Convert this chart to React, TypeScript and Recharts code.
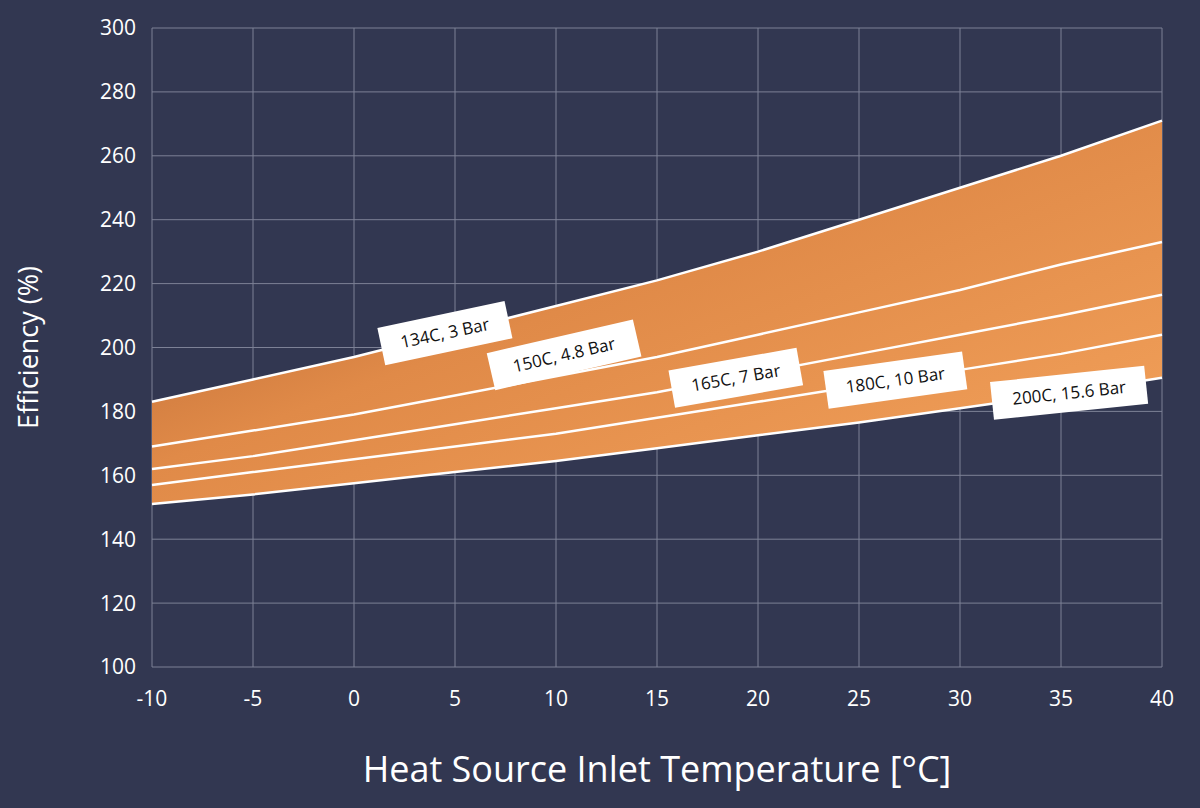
import React from 'react';
import { ComposedChart, Area, Line, XAxis, YAxis, CartesianGrid, ReferenceDot } from 'recharts';

const temps = [-10, -5, 0, 5, 10, 15, 20, 25, 30, 35, 40];
const s134 = [183, 190, 197, 205, 213, 221, 230, 240, 250, 260, 271];
const s150 = [169, 174, 179, 185, 191, 197, 204, 211, 218, 226, 233];
const s165 = [162, 166, 171, 176, 181, 186, 192, 198, 204, 210, 216.5];
const s180 = [157, 161, 165, 169, 173, 178, 183, 188, 193, 198, 204];
const s200 = [151, 154, 157.5, 161, 164.5, 168.5, 172.5, 176.5, 181, 185.5, 190.5];
const xTicks = [-10, -5, 0, 5, 10, 15, 20, 25, 30, 35, 40];
const yTicks = [100, 120, 140, 160, 180, 200, 220, 240, 260, 280, 300];

const labels = [
  { text: '134C, 3 Bar', x: 4.5, y: 204.5, angle: -12, w: 130 },
  { text: '150C, 4.8 Bar', x: 10.4, y: 197.7, angle: -13, w: 150 },
  { text: '165C, 7 Bar', x: 18.9, y: 190.5, angle: -10, w: 130 },
  { text: '180C, 10 Bar', x: 26.8, y: 189.8, angle: -8, w: 140 },
  { text: '200C, 15.6 Bar', x: 35.4, y: 185.8, angle: -6, w: 155 },
];

const data = temps.map((t, i) => ({
  t,
  band: [s200[i], s134[i]],
  s134: s134[i], s150: s150[i], s165: s165[i], s180: s180[i], s200: s200[i],
}));

const font = '"Open Sans", "Noto Sans", sans-serif';

const LabelBox = (w: number, text: string, angle: number) => (props: any) => {
  const { cx, cy } = props;
  return (
    <g transform={`translate(${cx},${cy}) rotate(${angle})`}>
      <rect x={-w / 2} y={-19} width={w} height={38} fill="#ffffff" />
      <text x={0} y={6} textAnchor="middle" fontSize={17} fontFamily={font} fill="#111">{text}</text>
    </g>
  );
};

export default function App() {
  return (
    <div style={{ position: 'absolute', left: 0, top: 0, width: 1200, height: 808, background: '#323751' }}>
      <ComposedChart width={1200} height={808} data={data} margin={{ top: 28, right: 38, bottom: 0, left: 0 }}>
        <defs>
          <linearGradient id="og" x1="0" y1="0" x2="1" y2="1">
            <stop offset="0%" stopColor="#a8582a" />
            <stop offset="45%" stopColor="#e08a48" />
            <stop offset="100%" stopColor="#f4a35c" />
          </linearGradient>
        </defs>
        <CartesianGrid stroke="#7d8196" strokeWidth={1} />
        <XAxis dataKey="t" type="number" domain={[-10, 40]} ticks={xTicks} height={141}
          axisLine={false} tickLine={false} tick={{ fill: '#fff', fontSize: 21, fontFamily: font }} tickMargin={18}
          label={{ value: 'Heat Source Inlet Temperature [°C]', position: 'insideBottom', offset: 26, fill: '#fff', fontSize: 36, fontFamily: font }} />
        <YAxis type="number" domain={[100, 300]} ticks={yTicks} width={152}
          axisLine={false} tickLine={false} tick={{ fill: '#fff', fontSize: 21, fontFamily: font }} tickMargin={10}
          label={{ value: 'Efficiency (%)', angle: -90, position: 'insideLeft', offset: 28, dy: 0, fill: '#fff', fontSize: 27, fontFamily: font, style: { textAnchor: 'middle' } }} />
        <Area dataKey="band" stroke="none" fill="url(#og)" fillOpacity={1} isAnimationActive={false} />
        {['s134', 's150', 's165', 's180', 's200'].map(k => (
          <Line key={k} dataKey={k} stroke="#ffffff" strokeWidth={2.5} dot={false} isAnimationActive={false} />
        ))}
        {labels.map(l => (
          <ReferenceDot key={l.text} x={l.x} y={l.y} r={0} shape={LabelBox(l.w, l.text, l.angle)} />
        ))}
      </ComposedChart>
    </div>
  );
}
